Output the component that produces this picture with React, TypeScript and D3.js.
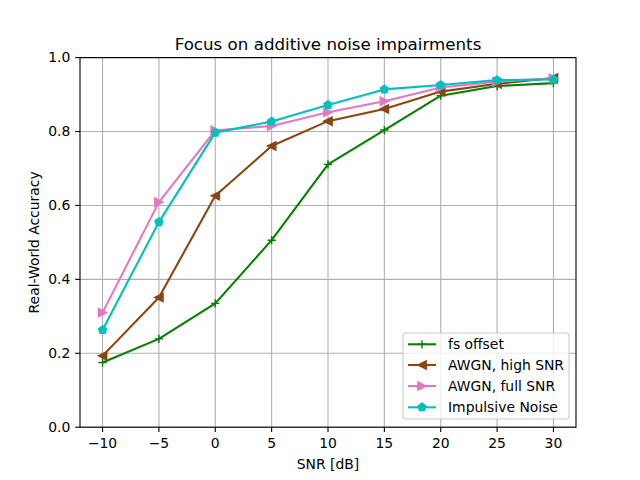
import React from 'react';
import * as d3 from 'd3';

const snr: number[] = [-10, -5, 0, 5, 10, 15, 20, 25, 30];
const fsOffset: number[] = [0.175, 0.239, 0.335, 0.506, 0.711, 0.804, 0.897, 0.923, 0.931];
const awgnHigh: number[] = [0.193, 0.351, 0.626, 0.761, 0.828, 0.861, 0.908, 0.929, 0.945];
const awgnFull: number[] = [0.310, 0.609, 0.803, 0.815, 0.852, 0.882, 0.919, 0.935, 0.944];
const impulsive: number[] = [0.263, 0.555, 0.797, 0.827, 0.872, 0.914, 0.926, 0.939, 0.941];
const xTicks: number[] = [-10, -5, 0, 5, 10, 15, 20, 25, 30];
const yTicks: number[] = [0, 0.2, 0.4, 0.6, 0.8, 1.0];

type Marker = 'plus' | 'left' | 'right' | 'pentagon';

interface Series {
  name: string;
  values: number[];
  color: string;
  marker: Marker;
}

const series: Series[] = [
  { name: 'fs offset', values: fsOffset, color: '#008000', marker: 'plus' },
  { name: 'AWGN, high SNR', values: awgnHigh, color: '#8b4513', marker: 'left' },
  { name: 'AWGN, full SNR', values: awgnFull, color: '#e377c2', marker: 'right' },
  { name: 'Impulsive Noise', values: impulsive, color: '#00bfbf', marker: 'pentagon' },
];

const W = 640;
const H = 480;
const left = 80;
const right = 576;
const top = 57.6;
const bottom = 427.2;
const font = 'DejaVu Sans, sans-serif';
const ms = 8.33;

const x = d3.scaleLinear().domain([-12, 32]).range([left, right]);
const y = d3.scaleLinear().domain([0, 1]).range([bottom, top]);

const line = d3.line<number>()
  .x((_, i) => x(snr[i]))
  .y(d => y(d));

const fmtX = (v: number) => (v < 0 ? '\u2212' + Math.abs(v) : String(v));

function markerPath(m: Marker): string {
  const r = ms / 2;
  if (m === 'plus') return `M${-r},0L${r},0M0,${-r}L0,${r}`;
  if (m === 'left') return `M${-r},0L${r},${-r}L${r},${r}Z`;
  if (m === 'right') return `M${r},0L${-r},${-r}L${-r},${r}Z`;
  const pts = d3.range(5).map(k => {
    const a = -Math.PI / 2 + (k * 2 * Math.PI) / 5;
    return [r * Math.cos(a), r * Math.sin(a)];
  });
  return 'M' + pts.map(p => p.join(',')).join('L') + 'Z';
}

const MarkerShape: React.FC<{ m: Marker; color: string; cx: number; cy: number }> = ({ m, color, cx, cy }) => (
  <path
    d={markerPath(m)}
    transform={`translate(${cx},${cy})`}
    fill={m === 'plus' ? 'none' : color}
    stroke={color}
    strokeWidth={1.39}
  />
);

const App: React.FC = () => {
  const legX = 403;
  const legY = 333;
  const legW = 166;
  const legH = 86;
  const rowY = [344.3, 365, 386, 407.3];

  return (
    <svg width={W} height={H} style={{ position: 'absolute', left: 0, top: 0 }} fontFamily={font}>
      <rect width={W} height={H} fill="#fff" />

      {/* grid */}
      {xTicks.map(t => (
        <line key={'gx' + t} x1={x(t)} x2={x(t)} y1={top} y2={bottom} stroke="#b0b0b0" strokeWidth={1.1} />
      ))}
      {yTicks.map(t => (
        <line key={'gy' + t} x1={left} x2={right} y1={y(t)} y2={y(t)} stroke="#b0b0b0" strokeWidth={1.1} />
      ))}

      {/* lines and markers */}
      {series.map(s => (
        <g key={s.name}>
          <path d={line(s.values) || ''} fill="none" stroke={s.color} strokeWidth={2.08} strokeLinejoin="round" />
          {s.values.map((v, i) => (
            <MarkerShape key={i} m={s.marker} color={s.color} cx={x(snr[i])} cy={y(v)} />
          ))}
        </g>
      ))}

      {/* spines */}
      <rect x={left} y={top} width={right - left} height={bottom - top} fill="none" stroke="#000" strokeWidth={1.1} />

      {/* x ticks */}
      {xTicks.map(t => (
        <g key={'xt' + t}>
          <line x1={x(t)} x2={x(t)} y1={bottom} y2={bottom + 4.86} stroke="#000" strokeWidth={1.1} />
          <text x={x(t)} y={bottom + 20.5} fontSize={13.9} textAnchor="middle">{fmtX(t)}</text>
        </g>
      ))}
      {/* y ticks */}
      {yTicks.map(t => (
        <g key={'yt' + t}>
          <line x1={left - 4.86} x2={left} y1={y(t)} y2={y(t)} stroke="#000" strokeWidth={1.1} />
          <text x={left - 9.7} y={y(t)} dy="0.35em" fontSize={13.9} textAnchor="end">{t.toFixed(1)}</text>
        </g>
      ))}

      <text x={(left + right) / 2} y={469} fontSize={13.9} textAnchor="middle">SNR [dB]</text>
      <text transform={`translate(39,${(top + bottom) / 2}) rotate(-90)`} fontSize={13.9} textAnchor="middle">Real-World Accuracy</text>
      <text x={(left + right) / 2} y={49.5} fontSize={16.7} textAnchor="middle">Focus on additive noise impairments</text>

      {/* legend */}
      <rect x={legX} y={legY} width={legW} height={legH} rx={3} fill="#fff" fillOpacity={0.8} stroke="#cccccc" strokeWidth={1.1} />
      {series.map((s, i) => (
        <g key={'lg' + s.name}>
          <line x1={408} x2={436} y1={rowY[i]} y2={rowY[i]} stroke={s.color} strokeWidth={2.08} />
          <MarkerShape m={s.marker} color={s.color} cx={422} cy={rowY[i]} />
          <text x={448} y={rowY[i]} dy="0.35em" fontSize={13.9}>{s.name}</text>
        </g>
      ))}
    </svg>
  );
};

export default App;
